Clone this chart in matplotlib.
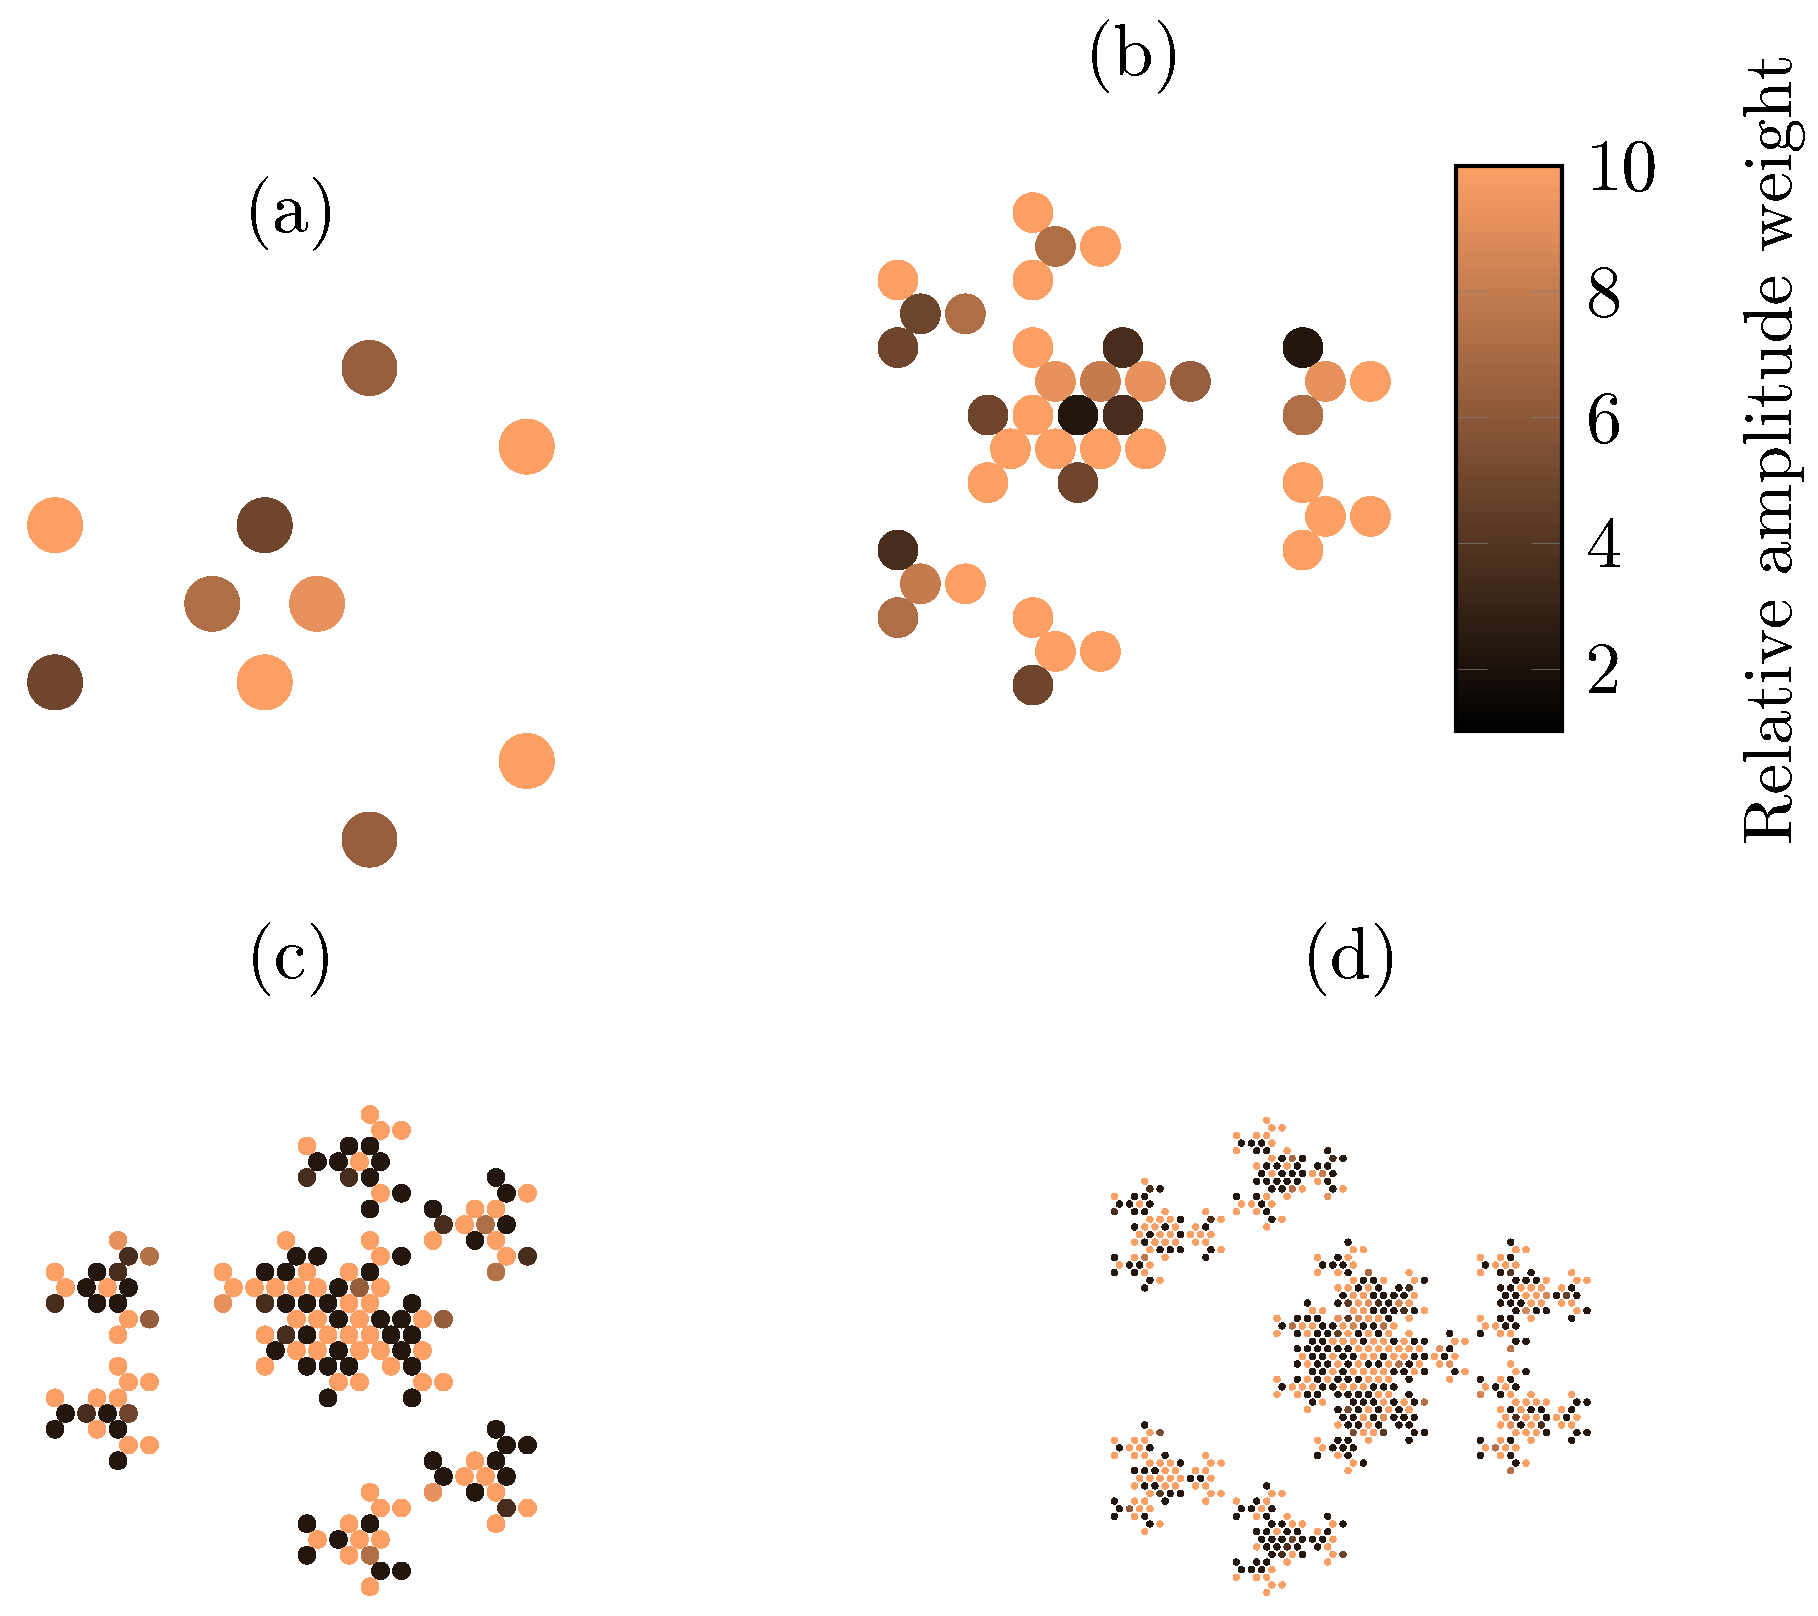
import numpy as np
import matplotlib
matplotlib.use("Agg")
import matplotlib.pyplot as plt
from matplotlib.cm import ScalarMappable
from matplotlib.colors import ListedColormap, Normalize
from matplotlib.transforms import ScaledTranslation

# amplitude weights, lattice columns are half steps, one list per lattice row
o = 10.0
k = 2.3

a_cols = [[6], [9], [0, 4], [3, 5], [0, 4], [9], [6]]
a_vals = [[6.4], [o], [o, 5.0], [7.2, 9.2], [5.0, o], [o], [6.4]]

b_cols = [[6], [7, 9], [0, 6], [1, 3], [0, 6, 10, 18], [7, 9, 11, 13, 19, 21], [4, 6, 8, 10, 18],
          [5, 7, 9, 11], [4, 8, 18], [19, 21], [0, 18], [1, 3], [0, 6], [7, 9], [6]]
b_vals = [[o], [7.2, o], [o, o], [4.9, 7.2], [5.0, o, 3.6, k], [9.2, 8.0, 9.2, 6.4, 9.2, o], [5.0, o, k, 3.6, 7.2],
          [o, o, o, o], [o, 5.0, o], [o, o], [3.6, o], [8.0, o], [7.2, o], [o, o], [5.0]]

c_cols = [[30], [31, 33], [24, 28, 30], [25, 27, 29, 31], [24, 28, 30, 42], [31, 33, 43, 45], [30, 36, 40, 42],
          [37, 39, 41, 43], [6, 22, 30, 36, 40, 42], [7, 9, 23, 25, 31, 33, 43, 45],
          [0, 4, 6, 16, 20, 22, 24, 28, 30, 42], [1, 3, 5, 7, 17, 19, 21, 23, 25, 27, 29, 31],
          [0, 4, 6, 16, 20, 22, 24, 26, 28, 30, 34], [7, 9, 23, 25, 27, 29, 31, 33, 35, 37],
          [6, 20, 22, 24, 26, 28, 30, 32, 34], [21, 23, 25, 27, 29, 31, 33, 35], [6, 20, 24, 26, 28, 32, 34],
          [7, 9, 27, 29, 35, 37], [0, 4, 6, 26, 34], [1, 3, 5, 7], [0, 4, 6, 42], [7, 9, 43, 45], [6, 36, 40, 42],
          [37, 39, 41, 43], [30, 36, 40, 42], [31, 33, 43, 45], [24, 28, 30, 42], [25, 27, 29, 31], [24, 28, 30],
          [31, 33], [30]]
c_vals = [[o], [o, o], [o, k, k], [k, k, o, k], [3.6, 3.6, k, k], [o, k, k, o], [k, k, o, o],
          [3.6, o, 7.2, k], [9.2, o, o, o, k, o], [3.6, 7.4, k, k, o, k, o, 3.6],
          [o, k, 3.6, o, k, k, o, o, k, 7.4], [o, k, o, k, o, o, o, o, o, k, 6.3, o],
          [3.6, k, k, 9.2, 3.6, k, k, k, o, o, k], [o, 6.3, o, o, k, o, k, k, o, 6.3],
          [o, o, 3.6, k, o, o, o, k, k], [k, o, o, k, o, o, k, o], [o, o, k, k, k, o, k],
          [o, o, o, o, o, o], [o, o, o, k, k], [k, 3.6, k, 5.0], [k, o, k, k], [o, o, k, k], [k, k, o, k],
          [k, o, o, k], [o, 9.2, k, o], [o, o, 3.6, o], [k, o, k, o], [o, k, o, o], [k, o, 7.2],
          [k, k], [o]]

d_cols = [
    [30], [31, 33], [24, 28, 30], [25, 27, 29, 31], [24, 28, 30, 34, 42], [31, 33, 35, 37, 43, 45],
    [28, 30, 32, 34, 36, 40, 42], [29, 31, 33, 35, 37, 39, 41, 43], [6, 28, 30, 32, 34, 36, 40, 42],
    [7, 9, 31, 33, 35, 37, 43, 45], [0, 4, 6, 24, 28, 30, 34, 42], [1, 3, 5, 7, 25, 27, 29, 31],
    [0, 4, 6, 10, 18, 24, 28, 30], [7, 9, 11, 13, 19, 21, 31, 33], [4, 6, 8, 10, 12, 16, 18, 30],
    [5, 7, 9, 11, 13, 15, 17, 19], [4, 6, 8, 10, 12, 16, 18, 46, 78],
    [7, 9, 11, 13, 19, 21, 47, 49, 79, 81], [0, 4, 6, 10, 18, 40, 44, 46, 72, 76, 78],
    [1, 3, 5, 7, 41, 43, 45, 47, 73, 75, 77, 79], [0, 4, 6, 40, 44, 46, 50, 58, 72, 76, 78, 82, 90],
    [7, 9, 47, 49, 51, 53, 59, 61, 79, 81, 83, 85, 91, 93],
    [6, 44, 46, 48, 50, 52, 56, 58, 76, 78, 80, 82, 84, 88, 90],
    [45, 47, 49, 51, 53, 55, 57, 59, 77, 79, 81, 83, 85, 87, 89, 91],
    [38, 44, 46, 48, 50, 52, 54, 56, 58, 76, 78, 80, 82, 84, 88, 90],
    [39, 41, 47, 49, 51, 53, 55, 57, 59, 61, 79, 81, 83, 85, 91, 93],
    [32, 36, 38, 40, 44, 46, 48, 50, 52, 54, 58, 72, 76, 78, 82, 90],
    [33, 35, 37, 39, 41, 43, 45, 47, 49, 51, 53, 55, 73, 75, 77, 79],
    [32, 36, 38, 40, 42, 44, 46, 48, 50, 52, 54, 58, 66, 72, 76, 78],
    [39, 41, 43, 45, 47, 49, 51, 53, 55, 57, 59, 61, 67, 69, 79, 81],
    [36, 38, 40, 42, 44, 46, 48, 50, 52, 54, 56, 58, 60, 64, 66, 78],
    [37, 39, 41, 43, 45, 47, 49, 51, 53, 55, 57, 59, 61, 63, 65, 67],
    [36, 38, 40, 42, 44, 46, 48, 50, 52, 54, 56, 58, 60, 64, 66, 78],
    [39, 41, 43, 45, 47, 49, 51, 53, 55, 57, 59, 61, 67, 69, 79, 81],
    [32, 36, 38, 40, 42, 44, 46, 48, 50, 52, 54, 58, 66, 72, 76, 78],
    [33, 35, 37, 39, 41, 43, 45, 47, 49, 51, 53, 55, 73, 75, 77, 79],
    [32, 36, 38, 40, 44, 46, 48, 50, 52, 54, 58, 72, 76, 78, 82, 90],
    [39, 41, 47, 49, 51, 53, 55, 57, 59, 61, 79, 81, 83, 85, 91, 93],
    [38, 44, 46, 48, 50, 52, 54, 56, 58, 76, 78, 80, 82, 84, 88, 90],
    [45, 47, 49, 51, 53, 55, 57, 59, 77, 79, 81, 83, 85, 87, 89, 91],
    [6, 44, 46, 48, 50, 52, 56, 58, 76, 78, 80, 82, 84, 88, 90],
    [7, 9, 47, 49, 51, 53, 59, 61, 79, 81, 83, 85, 91, 93],
    [0, 4, 6, 40, 44, 46, 50, 58, 72, 76, 78, 82, 90],
    [1, 3, 5, 7, 41, 43, 45, 47, 73, 75, 77, 79],
    [0, 4, 6, 10, 18, 40, 44, 46, 72, 76, 78],
    [7, 9, 11, 13, 19, 21, 47, 49, 79, 81],
    [4, 6, 8, 10, 12, 16, 18, 46, 78],
    [5, 7, 9, 11, 13, 15, 17, 19],
    [4, 6, 8, 10, 12, 16, 18, 30],
    [7, 9, 11, 13, 19, 21, 31, 33],
    [0, 4, 6, 10, 18, 24, 28, 30],
    [1, 3, 5, 7, 25, 27, 29, 31],
    [0, 4, 6, 24, 28, 30, 34, 42],
    [7, 9, 31, 33, 35, 37, 43, 45],
    [6, 28, 30, 32, 34, 36, 40, 42],
    [29, 31, 33, 35, 37, 39, 41, 43],
    [28, 30, 32, 34, 36, 40, 42],
    [31, 33, 35, 37, 43, 45],
    [24, 28, 30, 34, 42],
    [25, 27, 29, 31],
    [24, 28, 30],
    [31, 33],
    [30],
]
d_vals = [
    [o], [o, o], [o, o, o], [k, k, k, o], [o, k, k, o, k], [o, k, 7.0, k, 3.6, k],
    [o, k, k, o, k, k, k], [k, o, k, k, k, o, 8.0, k], [o, k, k, k, k, k, o, k],
    [3.6, k, k, k, 7.3, o, k, o], [o, k, k, k, k, o, o, 9.2], [k, k, o, k, o, o, k, o],
    [3.6, k, k, o, o, o, o, k], [o, o, o, k, 3.6, o, k, o], [k, o, o, k, o, o, k, o],
    [o, k, o, o, k, o, o, o], [o, k, o, o, o, o, o, k, k],
    [o, k, k, k, k, o, o, o, o, o], [k, o, 7.6, o, k, o, k, o, o, o, k],
    [o, k, k, o, k, k, k, o, k, o, o, o], [k, k, o, o, o, k, 7.0, o, o, k, 4.0, k, o],
    [k, o, o, k, k, o, o, k, k, k, k, o, o, o],
    [k, o, o, k, o, k, k, 3.6, k, k, o, o, o, o, k],
    [k, o, o, k, k, k, k, o, k, k, o, o, 8.5, k, 4.6, k],
    [k, k, 4.2, o, 9.0, 3.6, k, 8.5, o, k, k, k, o, o, o, o],
    [o, o, o, o, k, k, k, 3.6, k, o, k, 8.5, k, k, o, k],
    [o, k, k, k, 9.2, 4.0, 8.5, o, o, k, o, o, k, k, o, k],
    [k, 7.3, o, o, k, k, o, 8.5, k, k, 7.3, o, o, o, k, k],
    [o, k, o, k, k, 4.6, o, k, o, k, o, o, k, k, o, o],
    [k, k, o, o, o, k, o, o, k, o, k, k, o, o, k, k],
    [k, k, k, k, k, k, o, o, o, o, o, o, o, 9.0, k, 7.6],
    [o, k, k, o, k, k, o, o, k, o, o, k, k, o, k, o],
    [k, o, k, k, o, k, o, k, k, o, 7.3, k, o, o, 9.0, o],
    [k, k, o, k, o, o, o, o, k, k, o, k, k, o, o, k],
    [o, k, o, k, o, k, k, k, o, o, o, k, o, k, o, k],
    [k, o, o, o, k, k, o, o, o, k, k, k, o, k, o, k],
    [o, o, k, k, k, k, k, k, o, o, k, 8.5, k, o, o, o],
    [k, o, k, k, k, o, k, o, k, 7.3, o, o, o, o, k, k],
    [o, k, 5.3, k, o, k, o, k, o, o, k, o, k, k, o, k],
    [k, k, o, k, 9.0, k, k, k, o, 3.6, o, o, k, o, k, o],
    [k, o, k, k, o, k, k, k, o, 9.0, k, o, 3.6, o, o],
    [o, 5.3, 5.3, o, o, 4.2, k, k, o, o, o, k, k, k],
    [o, o, o, o, k, k, o, k, k, o, k, o, k],
    [k, o, o, k, o, k, k, k, o, 7.3, o, o],
    [o, o, o, k, o, k, o, k, k, o, k],
    [o, o, o, k, o, o, o, k, k, o],
    [k, k, k, o, o, o, o, o, 7.3],
    [o, o, o, o, o, k, k, o],
    [o, k, k, o, o, o, o, k],
    [o, 4.0, k, k, o, o, o, o],
    [k, o, o, k, o, o, k, o],
    [k, 6.0, o, o, k, k, o, k],
    [k, o, k, k, o, k, o, k],
    [k, o, k, k, o, o, o, k],
    [o, k, k, o, k, k, o, k],
    [k, k, k, 4.8, k, k, k, o],
    [o, k, k, 3.6, k, k, o],
    [k, 3.6, o, k, o, 4.8],
    [k, k, k, o, o],
    [k, k, k, o],
    [o, o, o],
    [o, o],
    [o],
]

cbar_ticks = [2, 4, 6, 8, 10]
panel_labels = ["(a)", "(b)", "(c)", "(d)"]
cbar_label = "Relative amplitude weight"

W, H = 1818, 1616
plt.rcParams["font.family"] = ["cmr10", "DejaVu Serif"]
plt.rcParams["axes.unicode_minus"] = False
plt.rcParams["text.antialiased"] = False

cmap = ListedColormap(plt.get_cmap("copper")(np.linspace(0, 0.8, 256)))
norm = Normalize(1, 10)

fig = plt.figure(figsize=(W / 100, H / 100), dpi=100, facecolor="white")


def draw_panel(cols, vals, x0, y0, dx, dy, size):
    # axes spans the lattice with one step of margin, placed in figure pixels
    ncol = max(max(c) for c in cols)
    nrow = len(cols) - 1
    left = x0 - dx
    top = y0 - dy
    ax = fig.add_axes([left / W, 1 - (top + (nrow + 2) * dy) / H, (ncol + 2) * dx / W, (nrow + 2) * dy / H])
    xs, ys, ws = [], [], []
    for r in range(len(cols)):
        xs += cols[r]
        ys += [r] * len(cols[r])
        ws += vals[r]
    ax.scatter(xs, ys, c=ws, cmap=cmap, norm=norm, s=(size * 0.72) ** 2, linewidths=0, antialiased=False, clip_on=False)
    ax.set_xlim(-1, ncol + 1)
    ax.set_ylim(nrow + 1, -1)
    ax.axis("off")
    return ax


draw_panel(a_cols, a_vals, 55.1, 368.0, 52.4, 78.6, 55.0)
draw_panel(b_cols, b_vals, 897.9, 212.6, 22.5, 33.75, 39.8)
draw_panel(c_cols, c_vals, 55.0, 1114.5, 10.5, 15.74, 17.8)
draw_panel(d_cols, d_vals, 1114.3, 1120.3, 5.083, 7.617, 6.4)

label_pos = [(291, 214), (1134, 57), (291, 960), (1351, 960)]
for lab, (px, py) in zip(panel_labels, label_pos):
    fig.text(px / W, 1 - py / H, lab, fontsize=53, ha="center", va="center")

cax = fig.add_axes([1456 / W, 1 - 731.4 / H, 106 / W, 565.8 / H])
cb = fig.colorbar(ScalarMappable(norm=norm, cmap=cmap), cax=cax)
cb.set_ticks(cbar_ticks)
cb.set_ticklabels([str(t) for t in cbar_ticks])
cb.outline.set_linewidth(3.0)
cb.outline.set_edgecolor("black")
cax.tick_params(axis="y", which="major", direction="in", left=True, right=True, length=22, width=0.5,
                color="#808080", labelsize=52, pad=17)
# labels sit a little lower than a plain centre alignment
nudge = ScaledTranslation(0, -4.5 / 72, fig.dpi_scale_trans)
for lab in cax.get_yticklabels():
    lab.set_va("center")
    lab.set_transform(lab.get_transform() + nudge)
cax.minorticks_off()
fig.text(1775 / W, 1 - 449 / H, cbar_label, fontsize=49.4, rotation=90, ha="center", va="center")

fig.savefig("out.png", dpi=100, facecolor="white")
